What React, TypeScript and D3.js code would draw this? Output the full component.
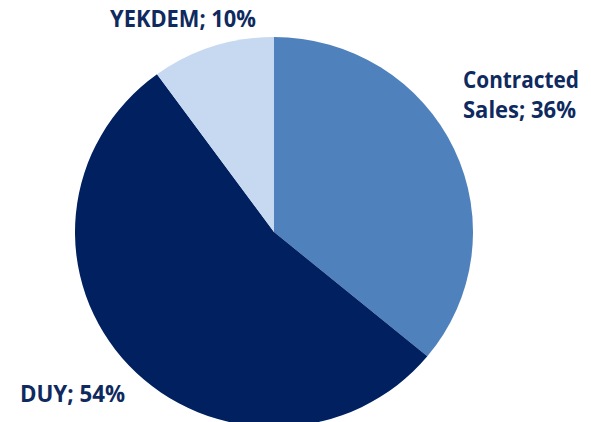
import { useEffect, useRef } from "react";
import * as d3 from "d3";

const categories = ["Contracted Sales", "DUY", "YEKDEM"];
const shares = [36, 54, 10];
const colors = ["#4F81BD", "#002060", "#C6D9F1"];
const labelLines = [["Contracted", "Sales; 36%"], ["DUY; 54%"], ["YEKDEM; 10%"]];

const width = 591;
const height = 422;

const App = () => {
  const ref = useRef<SVGSVGElement>(null);

  useEffect(() => {
    if (!ref.current) return;
    const svg = d3.select(ref.current);
    svg.selectAll("*").remove();

    const cx = 274;
    const cy = 232;
    const radius = 199;

    const data = categories.map((name, i) => ({ name, value: shares[i], color: colors[i] }));

    const pie = d3
      .pie<{ name: string; value: number; color: string }>()
      .value((d) => d.value)
      .sort(null);

    const arc = d3
      .arc<d3.PieArcDatum<{ name: string; value: number; color: string }>>()
      .innerRadius(0)
      .outerRadius(radius);

    // picture is slightly squashed vertically
    const g = svg.append("g").attr("transform", `translate(${cx},${cy}) scale(1,0.98)`);

    g.selectAll("path")
      .data(pie(data))
      .enter()
      .append("path")
      .attr("d", arc)
      .attr("fill", (d) => d.data.color);

    // label placement (left x, first baseline, target widths)
    const labelPos = [
      { x: 463, y: 88, w: [116, 113] },
      { x: 20, y: 402, w: [105] },
      { x: 110, y: 27, w: [146] },
    ];

    labelLines.forEach((lines, i) => {
      lines.forEach((line, j) => {
        svg
          .append("text")
          .attr("x", labelPos[i].x)
          .attr("y", labelPos[i].y + j * 30)
          .attr("font-family", "'Open Sans', sans-serif")
          .attr("font-weight", "bold")
          .attr("font-size", "23px")
          .attr("fill", "#0F2A5E")
          .attr("textLength", labelPos[i].w[j])
          .attr("lengthAdjust", "spacingAndGlyphs")
          .text(line);
      });
    });
  }, []);

  return (
    <svg
      ref={ref}
      width={width}
      height={height}
      style={{ position: "absolute", left: 0, top: 0, background: "#fff" }}
    ></svg>
  );
};

export default App;
